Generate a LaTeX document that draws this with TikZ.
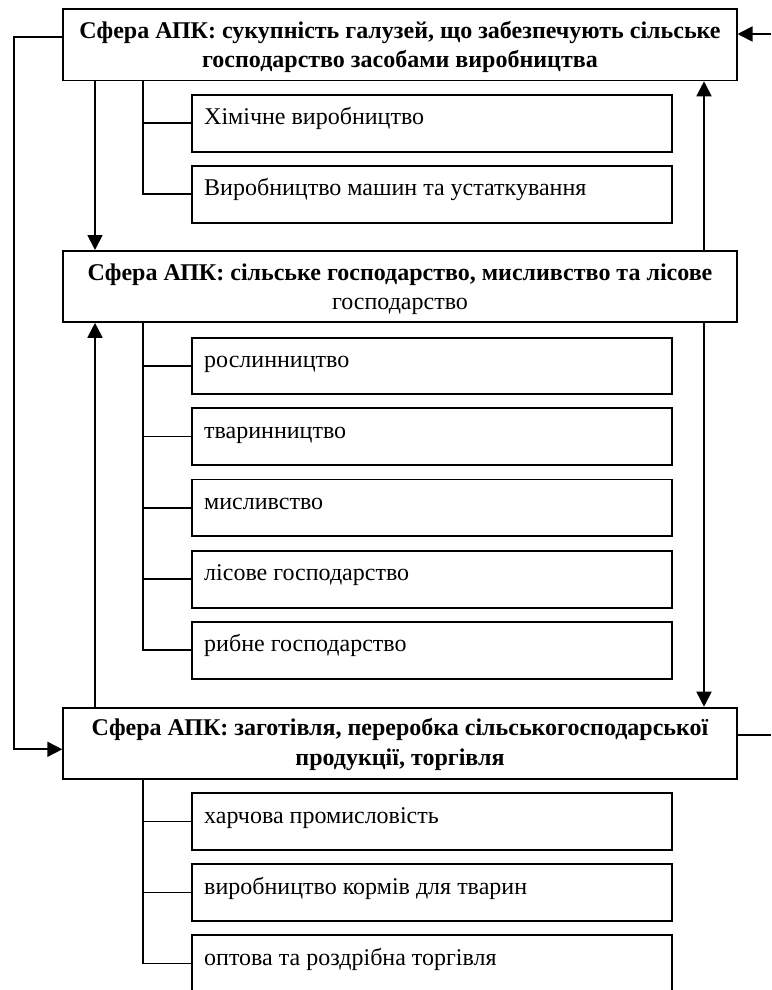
\documentclass[tikz,border=0pt]{standalone}
\usepackage{fontspec}
\setmainfont{Liberation Serif}
\usetikzlibrary{arrows.meta}
\begin{document}
\begin{tikzpicture}[x=1pt,y=-1pt,
  box/.style={draw, line width=1.8pt, rectangle, inner sep=0pt, anchor=north west},
  mainbox/.style={box, minimum width=673.4pt, minimum height=71pt},
  subbox/.style={box, minimum width=480.3pt, minimum height=56.7pt},
  btxt/.style={anchor=base, inner sep=0pt, font=\fontsize{24}{28}\selectfont\bfseries},
  rtxt/.style={anchor=base, inner sep=0pt, font=\fontsize{24}{28}\selectfont},
  stxt/.style={anchor=base west, inner sep=0pt, font=\fontsize{24}{28}\selectfont},
  conn/.style={line width=1.8pt},
  arr/.style={conn, -{Triangle[length=15pt,width=15pt]}},
]
\clip (0,0) rectangle (771,990);
% main boxes
\node[mainbox] (A) at (62.3,8.5) {};
\node[mainbox] (B) at (62.3,250) {};
\node[mainbox] (C) at (62.3,706.7) {};
\node[btxt] (A1) at (400,38.5) {Сфера АПК: сукупність галузей, що забезпечують сільське};
\node[btxt] (A2) at (400,67.5) {господарство засобами виробництва};
\node[btxt] (B1) at (400,280) {Сфера АПК: сільське господарство, мисливство та лісове};
\node[rtxt] (B2) at (400,309) {господарство};
\node[btxt] (C1) at (400,735.7) {Сфера АПК: заготівля, переробка сільськогосподарської};
\node[btxt] (C2) at (400,765) {продукції, торгівля};
% sub boxes
\node[subbox] (S1) at (190.7,94) {};
\node[subbox] (S2) at (190.7,165) {};
\node[subbox] (M1) at (190.7,336.7) {};
\node[subbox] (M2) at (190.7,407.3) {};
\node[subbox] (M3) at (190.7,478.5) {};
\node[subbox] (M4) at (190.7,550) {};
\node[subbox] (M5) at (190.7,621) {};
\node[subbox] (P1) at (190.7,792.3) {};
\node[subbox] (P2) at (190.7,863.3) {};
\node[subbox] (P3) at (190.7,934.3) {};
\node[stxt] (S1t) at (204,124.5) {Хімічне виробництво};
\node[stxt] (S2t) at (204,195.5) {Виробництво машин та устаткування};
\node[stxt] (M1t) at (204,367.5) {рослинництво};
\node[stxt] (M2t) at (204,438) {тваринництво};
\node[stxt] (M3t) at (204,509) {мисливство};
\node[stxt] (M4t) at (204,580.5) {лісове господарство};
\node[stxt] (M5t) at (204,651.5) {рибне господарство};
\node[stxt] (P1t) at (204,823) {харчова промисловість};
\node[stxt] (P2t) at (204,894) {виробництво кормів для тварин};
\node[stxt] (P3t) at (204,965) {оптова та роздрібна торгівля};
% coordinates
\coordinate (xl) at (95,0);
\coordinate (xr) at (704,0);
\coordinate (xt) at (142.7,0);
\coordinate (lt) at (14,37.3);
\coordinate (lb) at (14,749.3);
\coordinate (rt) at (771,34);
\coordinate (rb) at (771,735);
% trees
\draw[conn] (xt |- A.south) |- (S1.west);
\draw[conn] (xt |- A.south) |- (S2.west);
\draw[conn] (xt |- B.south) |- (M1.west);
\draw[conn] (xt |- B.south) |- (M2.west);
\draw[conn] (xt |- B.south) |- (M3.west);
\draw[conn] (xt |- B.south) |- (M4.west);
\draw[conn] (xt |- B.south) |- (M5.west);
\draw[conn] (xt |- C.south) |- (P1.west);
\draw[conn] (xt |- C.south) |- (P2.west);
\draw[conn] (xt |- C.south) |- (P3.west);
% arrows
\draw[arr] (lt -| A.west) -- (lt) -- (lb) -- (lb -| C.west);
\draw[arr] (rt) -- (rt -| A.east);
\draw[conn] (rb -| C.east) -- (rb);
\draw[arr] (xl |- A.south) -- (xl |- B.north);
\draw[arr] (xl |- C.north) -- (xl |- B.south);
\draw[arr] (xr |- B.north) -- (xr |- A.south);
\draw[arr] (xr |- B.south) -- (xr |- C.north);
\end{tikzpicture}
\end{document}
